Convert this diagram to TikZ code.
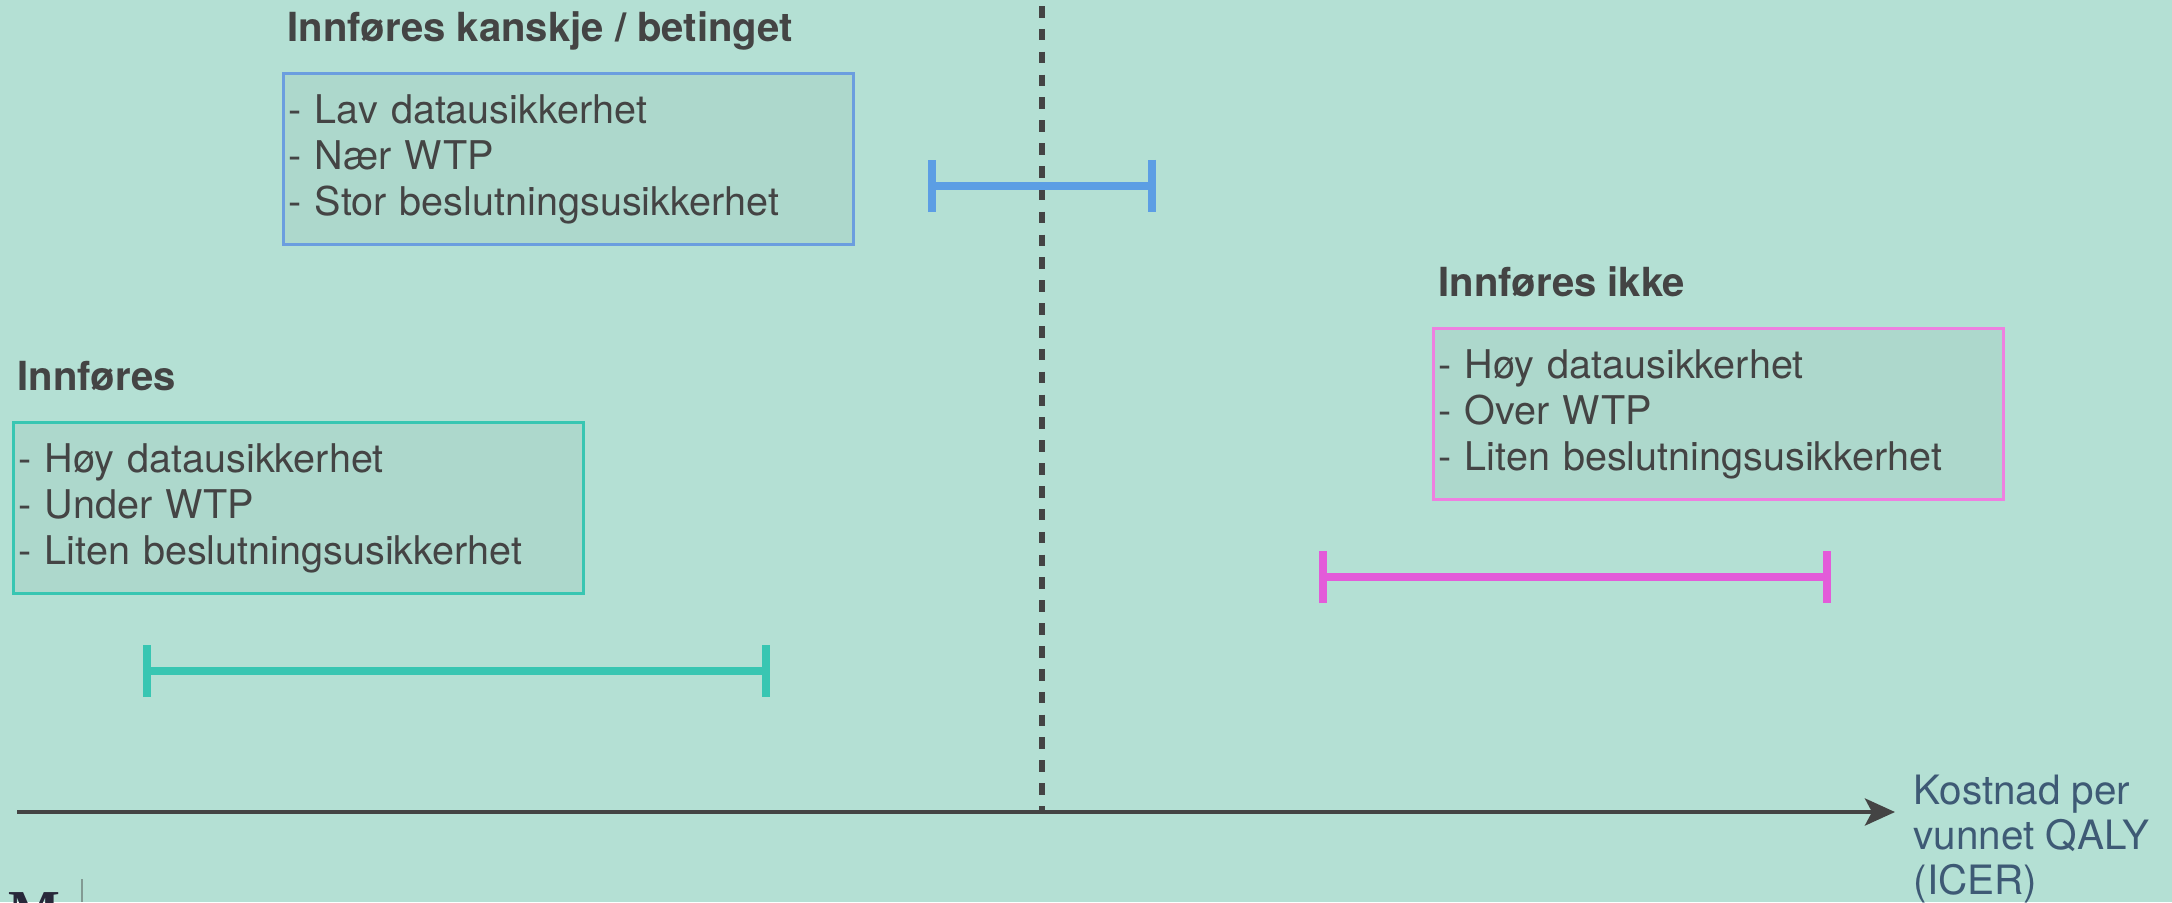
\documentclass[tikz,border=0pt]{standalone}
\usepackage{fontspec}
\setmainfont{TeX Gyre Heros}
\newfontfamily\logofont{Liberation Serif}
\usetikzlibrary{arrows.meta}
\definecolor{IcerMint}{HTML}{B4E0D4}
\definecolor{IcerInk}{HTML}{444444}
\definecolor{IcerSlate}{HTML}{3E5A75}
\definecolor{IcerBlue}{HTML}{5C9EE4}
\definecolor{IcerBlueLine}{HTML}{6B9EDF}
\definecolor{IcerGreen}{HTML}{38C6B2}
\definecolor{IcerPink}{HTML}{E35BD9}
\definecolor{IcerPinkLine}{HTML}{EE80E0}
\definecolor{IcerLogo}{HTML}{28283A}

\begin{document}
\begin{tikzpicture}[x=0.01cm, y=-0.01cm,
    infobox/.style={line width=0.85pt, fill=black, fill opacity=0.035, text opacity=1,
        text=IcerInk, anchor=north west, text width=5.6cm, inner xsep=0.05cm, inner ysep=0pt,
        minimum height=1.71cm, align=left, font=\fontsize{11.25}{13.1}\selectfont},
    heading/.style={anchor=base west, inner sep=0pt, text=IcerInk,
        font=\fontsize{11.4}{13}\selectfont\bfseries},
    errbar/.style={line width=0.08cm, {Bar[width=0.52cm]}-{Bar[width=0.52cm]}}]
    % Background
    \useasboundingbox (0,0) rectangle (2172,902);
    \fill[IcerMint] (0,0) rectangle (2172,902);

    % WTP threshold
    \coordinate (wtptop) at (1042,6);
    \coordinate (wtpbot) at (1042,812);
    \draw[IcerInk, line width=1.7pt, dash pattern=on 3.3pt off 3.2pt] (wtptop) -- (wtpbot);

    % Axis
    \coordinate (axstart) at (17,812);
    \coordinate (axend) at (1895,812);
    \draw[IcerInk, line width=1.2pt, -{Stealth[length=0.3cm, width=0.27cm, inset=0.07cm]}] (axstart) -- (axend);
    \node[anchor=north west, inner sep=0pt, align=left, text=IcerSlate,
        font=\fontsize{11.5}{12.8}\selectfont] (axtext) at (1913,774)
        {Kostnad per\\vunnet QALY\\(ICER)};

    % Intervals
    \coordinate (maybeL) at (928,186);
    \coordinate (maybeR) at (1156,186);
    \draw[errbar, IcerBlue] (maybeL) -- (maybeR);
    \coordinate (yesL) at (143,671);
    \coordinate (yesR) at (770,671);
    \draw[errbar, IcerGreen] (yesL) -- (yesR);
    \coordinate (noL) at (1319,577);
    \coordinate (noR) at (1831,577);
    \draw[errbar, IcerPink] (noL) -- (noR);

    % Boxes
    \node[infobox, draw=IcerBlueLine] (maybebox) at (282,72)
        {- Lav datausikkerhet\\- Nær WTP\\- Stor beslutningsusikkerhet};
    \node[infobox, draw=IcerGreen] (yesbox) at (12,421)
        {- Høy datausikkerhet\\- Under WTP\\- Liten beslutningsusikkerhet};
    \node[infobox, draw=IcerPinkLine] (nobox) at (1432,327)
        {- Høy datausikkerhet\\- Over WTP\\- Liten beslutningsusikkerhet};

    % Headings
    \node[heading] (maybehead) at ([shift={(5,-31)}]maybebox.north west) {Innføres kanskje / betinget};
    \node[heading] (yeshead) at ([shift={(5,-31)}]yesbox.north west) {Innføres};
    \node[heading] (nohead) at ([shift={(6,-31)}]nobox.north west) {Innføres ikke};

    % Logo corner
    \coordinate (logotop) at (82,879);
    \coordinate (logobot) at (82,902);
    \draw[IcerInk!45!IcerMint, line width=0.4pt] (logotop) -- (logobot);
    \node[anchor=base west, inner sep=0pt, text=IcerLogo,
        font=\logofont\fontsize{15.6}{16}\selectfont\bfseries] (logoglyph) at (8,928) {M};
\end{tikzpicture}
\end{document}
